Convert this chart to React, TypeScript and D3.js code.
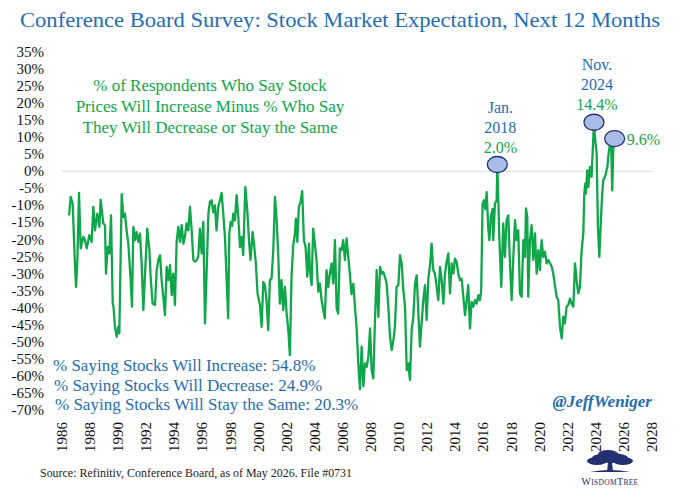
import React from 'react';
import * as d3 from 'd3';

// Conference Board: % expecting stocks up minus % expecting down/same.
// Dates are decimal years.
const dates = [
  1987.5, 1987.62, 1987.76, 1987.93, 1988.0, 1988.09, 1988.21, 1988.33, 1988.52, 1988.64, 1988.76, 1988.95,
  1989.11, 1989.23, 1989.35, 1989.51, 1989.66, 1989.75, 1989.94, 1990.06, 1990.13, 1990.25, 1990.37, 1990.49,
  1990.61, 1990.66, 1990.77, 1990.89, 1991.01, 1991.08, 1991.25, 1991.37, 1991.48, 1991.6, 1991.72, 1991.89,
  1991.98, 1992.08, 1992.2, 1992.31, 1992.43, 1992.55, 1992.67, 1992.79, 1992.91, 1993.07, 1993.22, 1993.31,
  1993.45, 1993.62, 1993.74, 1993.88, 1993.98, 1994.09, 1994.21, 1994.33, 1994.45, 1994.57, 1994.69, 1994.81,
  1994.92, 1995.04, 1995.16, 1995.28, 1995.4, 1995.52, 1995.64, 1995.75, 1995.87, 1995.99, 1996.11, 1996.23,
  1996.35, 1996.47, 1996.59, 1996.7, 1996.82, 1996.94, 1997.06, 1997.18, 1997.3, 1997.42, 1997.53, 1997.65,
  1997.77, 1997.89, 1998.0, 1998.12, 1998.24, 1998.36, 1998.48, 1998.6, 1998.72, 1998.83, 1998.91, 1999.0,
  1999.12, 1999.19, 1999.31, 1999.43, 1999.55, 1999.67, 1999.78, 1999.9, 2000.05, 2000.19, 2000.31, 2000.42,
  2000.57, 2000.69, 2000.8, 2000.92, 2001.09, 2001.21, 2001.33, 2001.44, 2001.56, 2001.68, 2001.8, 2001.92,
  2002.04, 2002.16, 2002.28, 2002.39, 2002.51, 2002.63, 2002.75, 2002.87, 2002.99, 2003.11, 2003.22, 2003.34,
  2003.46, 2003.58, 2003.65, 2003.75, 2003.86, 2003.98, 2004.1, 2004.22, 2004.34, 2004.46, 2004.58, 2004.65,
  2004.77, 2004.88, 2005.0, 2005.12, 2005.24, 2005.36, 2005.48, 2005.6, 2005.71, 2005.83, 2005.95, 2006.07,
  2006.19, 2006.31, 2006.43, 2006.55, 2006.66, 2006.78, 2006.9, 2007.02, 2007.14, 2007.26, 2007.37, 2007.49,
  2007.61, 2007.74, 2007.86, 2007.98, 2008.09, 2008.21, 2008.33, 2008.45, 2008.57, 2008.69, 2008.81, 2008.93,
  2009.04, 2009.16, 2009.28, 2009.4, 2009.52, 2009.64, 2009.76, 2009.87, 2009.99, 2010.11, 2010.23, 2010.35,
  2010.47, 2010.59, 2010.7, 2010.82, 2010.94, 2011.06, 2011.18, 2011.3, 2011.42, 2011.54, 2011.65, 2011.77,
  2011.89, 2012.01, 2012.13, 2012.25, 2012.37, 2012.48, 2012.6, 2012.72, 2012.84, 2012.96, 2013.08, 2013.2,
  2013.31, 2013.43, 2013.55, 2013.67, 2013.79, 2013.91, 2014.03, 2014.15, 2014.26, 2014.38, 2014.5, 2014.62,
  2014.74, 2014.86, 2014.97, 2015.09, 2015.21, 2015.33, 2015.45, 2015.57, 2015.69, 2015.81, 2015.92, 2016.04,
  2016.16, 2016.28, 2016.4, 2016.52, 2016.64, 2016.75, 2016.84, 2016.94, 2017.04, 2017.13, 2017.23, 2017.34,
  2017.42, 2017.53, 2017.65, 2017.7, 2017.82, 2017.94, 2017.99, 2018.13, 2018.27, 2018.41, 2018.53, 2018.65,
  2018.77, 2018.89, 2019.01, 2019.13, 2019.25, 2019.36, 2019.48, 2019.6, 2019.72, 2019.84, 2019.96, 2020.03,
  2020.12, 2020.19, 2020.31, 2020.43, 2020.55, 2020.67, 2020.79, 2020.91, 2021.02, 2021.14, 2021.26, 2021.38,
  2021.5, 2021.62, 2021.86, 2021.97, 2022.21, 2022.33, 2022.45, 2022.57, 2022.69, 2022.8, 2022.92, 2023.04,
  2023.16, 2023.28, 2023.4, 2023.52, 2023.63, 2023.75, 2023.87, 2023.99, 2024.11, 2024.18, 2024.25, 2024.3,
  2024.39, 2024.47, 2024.58, 2024.7, 2024.77, 2024.87, 2024.96, 2025.06, 2025.15, 2025.25, 2025.34, 2025.44,
  2025.53, 2025.68, 2025.82, 2025.91, 2026.01, 2026.1, 2026.17, 2026.24, 2026.34,
];

const values = [
  -12.9, -7.5, -9.5, -28, -33.9, -27, -6.3, -22.6, -19.2, -20.2, -22.6, -18.7,
  -20.7, -10.4, -17.3, -12.4, -16.3, -8.3, -15.3, -15.8, -30, -22.2, -24.1, -12.9,
  -38.8, -39.5, -45.6, -48.5, -45.6, -47.5, -6.7, -13.4, -12.4, -17.3, -21.2, -31.9,
  -39.7, -16.3, -20.2, -17.8, -20.7, -18.3, -27, -40.7, -30, -16.8, -23.1, -31,
  -38.8, -39.2, -29, -25.6, -24.6, -31.9, -36.8, -42.2, -28, -31.9, -27.5, -36.3,
  -30, -39.2, -20.7, -16.3, -20.7, -15.8, -21.2, -19.2, -15.3, -17.3, -10.4, -17.3,
  -26, -26.5, -26, -25, -16.8, -24.1, -14.8, -44.6, -29, -12.4, -9, -8.5,
  -12, -10, -17.3, -10.5, -8.5, -6.3, -12.4, -19.2, -31.9, -43.1, -18.3, -14.8,
  -16, -12.4, -14.4, -7, -13.4, -22.2, -19.2, -24.6, -4.6, -11.4, -20.2, -26,
  -17.8, -22.2, -27, -35.8, -39.2, -45.6, -32.4, -33.4, -37.8, -46.6, -31.9, -31.4,
  -23.1, -7.5, -14.4, -24.1, -38.8, -31.9, -40.7, -33.9, -41.7, -46.6, -53.9, -30.9,
  -21.7, -18.3, -13.9, -20.7, -10.4, -9, -5.8, -20.2, -22.2, -30.9, -21.2, -29,
  -33.4, -16.8, -21.2, -26, -35.3, -32.9, -37.8, -40.7, -43.1, -29, -33.9, -30,
  -27, -32.9, -20.2, -40.2, -41.7, -22.6, -23.1, -20.2, -26, -19.7, -24.6, -30,
  -36, -33, -40, -46.6, -56.3, -63.9, -51.4, -63.1, -56.3, -57.3, -54.4, -46.1,
  -58.3, -60.7, -43.6, -29, -42.7, -28, -30, -29.5, -31, -32.9, -39.7, -48.5,
  -52.4, -49.5, -45.6, -33.9, -33.4, -24.6, -27, -34.9, -39.7, -58.3, -56.3, -61.2,
  -46.6, -42.7, -32.9, -30.5, -41.7, -51.4, -44.6, -37.8, -33.4, -43.6, -31.4, -27.5,
  -21.2, -29, -30, -33.9, -37.8, -28, -31.9, -38.8, -30, -26.6, -24.1, -35.8,
  -27, -30, -25.6, -26.5, -30, -31.9, -31.5, -36.8, -42.2, -37.8, -33.4, -46.1,
  -38.3, -39.7, -37.8, -38.8, -36.3, -37.8, -35, -9.5, -8.5, -11, -6.1, -16.3,
  -20.2, -13.4, -11, -20.2, -9.5, -8.5, 2.0, -19.2, -33.9, -15.3, -25.1, -14.3,
  -12.9, -27, -37.8, -25.1, -14.3, -20.2, -17.3, -35.8, -36.8, -20.2, -25.1, -10.9,
  -13.4, -36.8, -20.2, -15.8, -26, -18.2, -30, -23.1, -29, -20.2, -25.1, -23.6,
  -27, -26, -28, -30, -36.8, -37.8, -45.6, -49, -42.6, -44.6, -39.7, -39.2,
  -37.3, -38.8, -39.7, -27, -31.9, -35.8, -33.9, -23.1, -18.2, -6.5, -3.6, -6.5,
  0.3, -4.6, 1.3, -1.6, 5.2, 14.4, 9.1, 5.2, -16.3, -25.1, -16.3, -7.5,
  -2.6, -1.2, 1.3, 5.2, 8.1, 7.1, -5.6, 6.2, 9.6,
];

const yTicks = d3.range(-70, 36, 5);
const yearLabels = d3.range(1986, 2029, 2);
// the source's year labels sit one year to the left of the dates they mark
const labelShift = 1;

const callouts = [
  { date: 2017.99, value: 2.0, head: ['Jan.', '2018'], label: '2.0%' },
  { date: 2024.87, value: 14.4, head: ['Nov.', '2024'], label: '14.4%' },
];
const latest = { date: 2026.34, value: 9.6, label: '9.6%' };

const noteLines = [
  '% of Respondents Who Say Stock',
  'Prices Will Increase Minus % Who Say',
  'They Will Decrease or Stay the Same',
];
const breakdown = [
  '% Saying Stocks Will Increase: 54.8%',
  '% Saying Stocks Will Decrease: 24.9%',
  '% Saying Stocks Will Stay the Same: 20.3%',
];

const W = 680;
const H = 492;
const serif = '"Liberation Serif", "DejaVu Serif", serif';
const green = '#10A64A';
const blue = '#1F6EB4';
const navy = '#24306F';

export default function App() {
  const x = d3.scaleLinear().domain([1987, 2029]).range([62, 652]);
  const y = d3.scaleLinear().domain([-70, 35]).range([410, 52]);

  const line = d3.line<number>()
    .x((_, i) => x(dates[i]))
    .y(d => y(d));

  return (
    <svg width={W} height={H} style={{ position: 'absolute', left: 0, top: 0, background: '#fff' }} fontFamily={serif}>
      <text x={W / 2} y={27} textAnchor="middle" fontSize={22} fill={blue} textLength={640} lengthAdjust="spacingAndGlyphs">
        Conference Board Survey: Stock Market Expectation, Next 12 Months
      </text>

      {/* y axis labels */}
      {yTicks.map(t => (
        <text key={t} x={44} y={y(t) + 5} textAnchor="end" fontSize={15} fill="#111">{t}%</text>
      ))}

      {/* zero line */}
      <line x1={x(1987)} x2={x(2029)} y1={y(0)} y2={y(0)} stroke="#dcdcdc" strokeWidth={1} />

      {/* year labels */}
      {yearLabels.map(yr => (
        <text key={yr} transform={`translate(${x(yr + labelShift) + 5},452) rotate(-90)`} fontSize={15} fill="#111">{yr}</text>
      ))}

      {noteLines.map((s, i) => (
        <text key={i} x={210} y={91 + i * 21} textAnchor="middle" fontSize={17} fill={green}>{s}</text>
      ))}

      <path d={line(values) ?? ''} fill="none" stroke={green} strokeWidth={2.3} strokeLinejoin="round" />

      {callouts.map(c => {
        const cx = x(c.date);
        const cy = y(c.value);
        return (
          <g key={c.label}>
            <ellipse cx={cx} cy={cy} rx={10} ry={8} fill="#A9BDE8" stroke={navy} strokeWidth={1.3} />
            <text x={cx + 3} y={cy - 52} textAnchor="middle" fontSize={16} fill={blue}>{c.head[0]}</text>
            <text x={cx + 3} y={cy - 32} textAnchor="middle" fontSize={16} fill={blue}>{c.head[1]}</text>
            <text x={cx + 3} y={cy - 12} textAnchor="middle" fontSize={16} fill={green}>{c.label}</text>
          </g>
        );
      })}
      <ellipse cx={x(latest.date)} cy={y(latest.value)} rx={10} ry={8} fill="#A9BDE8" stroke={navy} strokeWidth={1.3} />
      <text x={x(latest.date) + 12} y={y(latest.value) + 6} fontSize={16} fill={green}>{latest.label}</text>

      {breakdown.map((s, i) => (
        <text key={i} x={53 + i} y={371 + i * 19.5} fontSize={17} fill={blue}>{s}</text>
      ))}

      <text x={652} y={407} textAnchor="end" fontSize={17} fontWeight="bold" fontStyle="italic" fill={blue}>@JeffWeniger</text>

      <text x={40} y={477} fontSize={13} fill="#222" textLength={312} lengthAdjust="spacingAndGlyphs">
        Source: Refinitiv, Conference Board, as of May 2026. File #0731
      </text>

      {/* WisdomTree mark */}
      <g fill={navy}>
        <ellipse cx={610} cy={458} rx={18} ry={5} />
        <ellipse cx={597} cy={461} rx={10} ry={4} />
        <ellipse cx={623} cy={461} rx={10} ry={4} />
        <ellipse cx={608} cy={454} rx={10} ry={4} />
        <path d="M608,462 L607,472 L613,472 L612,462 Z" />
        <path d="M590,472 Q610,468 630,472 Z" />
        <text x={610} y={485} textAnchor="middle" fontSize={7.5} letterSpacing={0.3}>
          <tspan fontSize={10}>W</tspan>ISDOM<tspan fontSize={10}>T</tspan>REE
        </text>
      </g>
    </svg>
  );
}
